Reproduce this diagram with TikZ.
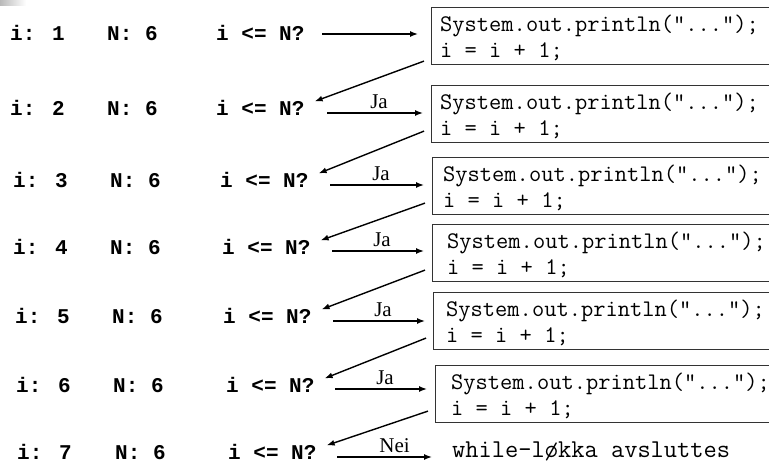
\documentclass[tikz,border=0pt]{standalone}
\usepackage{fontspec}
\setmainfont{Liberation Serif}
\newfontfamily\lblfont{Liberation Mono}
\newfontfamily\codefont{Latin Modern Mono}
\usetikzlibrary{arrows.meta}
\definecolor{boxline}{HTML}{333333}
\tikzset{
  lbl/.style={font=\lblfont\bfseries\fontsize{21}{24}\selectfont, anchor=base west, inner sep=0pt},
  code/.style={font=\codefont\fontsize{23.8}{26}\selectfont, anchor=base west, inner sep=0pt},
  endtxt/.style={font=\codefont\fontsize{25.7}{28}\selectfont, anchor=base west, inner sep=0pt},
  codebox/.style={draw=boxline, line width=1.1pt, anchor=north west, minimum width=420pt, minimum height=57pt, inner sep=0pt},
  arr/.style={-{Latex[length=8pt,width=6pt]}, line width=1.4pt},
  ans/.style={font=\rmfamily\fontsize{21}{23}\selectfont, inner sep=0pt, above=4pt}
}
\begin{document}
\begin{tikzpicture}[x=1pt,y=-1pt]
\useasboundingbox (0,0) rectangle (769,463);
\clip (0,0) rectangle (769,463);
% faint corner shading of the slide
\shade[left color=gray!55, right color=white] (0,0) rectangle (26,5);

% state of the counters in each round
\foreach \k/\ix/\nx/\qx/\yb in {1/10/107/216/40, 2/10/107/216/115, 3/13/110/220/187,
    4/13/110/222/254, 5/15/112/223/323, 6/16/113/226/392, 7/17/115/228/459}{
  \node[lbl] (i\k) at (\ix,\yb) {i: \k};
  \node[lbl] (n\k) at (\nx,\yb) {N: 6};
  \node[lbl] (q\k) at (\qx,\yb) {i <= N?};
}

% loop bodies
\foreach \k/\bx/\by/\tx in {1/431/7/440, 2/431/85/440, 3/432/157/443,
    4/432/224/447, 5/433/292/446, 6/435/365/451}{
  \node[codebox] (b\k) at (\bx,\by) {};
  \node[code] (p\k) at (\tx,\by+24) {System.out.println("...");};
  \node[code] (u\k) at (\tx,\by+50) {i = i + 1;};
}
\node[endtxt] (end) at (452,457) {while-løkka avsluttes};

% test -> body
\coordinate (hs1) at (322,34);
\coordinate (hs2) at (327,113);
\coordinate (hs3) at (330,185);
\coordinate (hs4) at (332,251);
\coordinate (hs5) at (333,321);
\coordinate (hs6) at (335,389);
\coordinate (hs7) at (337,457);
\draw[arr, shorten >=13pt] (hs1) -- (hs1 -| b1.west);
\foreach \k in {2,...,6}{
  \draw[arr, shorten >=8pt] (hs\k) -- (hs\k -| b\k.west)
    node[ans, midway] {Ja};
}
\draw[arr, shorten >=20pt] (hs7) -- (hs7 -| end.west) node[ans, midway] {Nei};

% body -> next test
\draw[arr] ([shift={(-7,-4)}]b1.south west) -- ([shift={(10,-6)}]q2.east);
\foreach \k [evaluate=\k as \n using int(\k+1)] in {2,...,6}{
  \draw[arr] ([shift={(-7,-12)}]b\k.south west) -- ([shift={(10,-6)}]q\n.east);
}
\end{tikzpicture}
\end{document}
